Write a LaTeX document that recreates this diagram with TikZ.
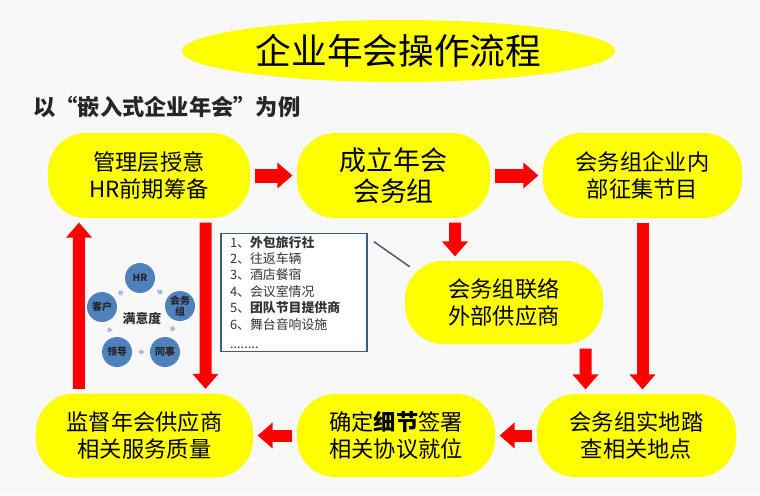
\documentclass[tikz,border=0pt]{standalone}
\usepackage{fontspec}
\setmainfont{Noto Sans CJK SC}
\usetikzlibrary{arrows.meta,shapes.geometric,calc}
\definecolor{FlowYellow}{RGB}{255,255,0}
\definecolor{FlowRed}{RGB}{255,0,0}
\definecolor{FlowBack}{RGB}{248,248,248}
\definecolor{FlowBlue}{RGB}{79,129,189}
\definecolor{FlowDot}{RGB}{167,186,214}
\definecolor{FlowNavy}{RGB}{56,93,138}
\definecolor{FlowSlate}{RGB}{68,84,106}
\tikzset{
  flow/box/.style={
    fill=FlowYellow,
    rounded corners=1.15cm,
    align=center,
    text=black,
    inner sep=0pt,
    font=\fontsize{19pt}{23pt}\selectfont
  },
  flow/title/.style={
    ellipse,
    fill=FlowYellow,
    minimum width=12.99cm,
    minimum height=1.86cm,
    inner sep=0pt,
    text=black,
    font=\fontsize{30.5pt}{32pt}\selectfont
  },
  flow/subtitle/.style={
    inner sep=0pt,
    text=black!85,
    font=\fontsize{19pt}{22pt}\selectfont\bfseries
  },
  flow/list/.style={
    draw=FlowNavy,
    line width=1.5pt,
    fill=white,
    align=left,
    text=black!80,
    text width=3.84cm,
    minimum height=3.45cm,
    inner xsep=0.27cm,
    inner ysep=2pt,
    font=\fontsize{11pt}{14pt}\selectfont
  },
  flow/sat/.style={
    circle,
    fill=FlowBlue,
    minimum size=0.9cm,
    inner sep=0pt,
    align=center,
    text=black!85,
    font=\fontsize{8.5pt}{9pt}\selectfont\bfseries
  },
  flow/satlabel/.style={text=black!80, font=\fontsize{11pt}{12pt}\selectfont\bfseries},
  flow/arrow/.style={-{Triangle[length=4.5mm,width=7.5mm]}, line width=0.36cm, draw=FlowRed,
    shorten <=0.13cm, shorten >=0.13cm},
  flow/fatarrow/.style={flow/arrow, line width=0.42cm},
  flow/satdot/.style={-{Triangle[length=1.2mm,width=1.8mm]}, line width=1.8pt, draw=FlowDot,
    shorten <=0.18cm, shorten >=0.18cm},
  flow/callout/.style={draw=FlowSlate, line width=1.2pt}
}
\begin{document}
\begin{tikzpicture}[x=0.03cm,y=-0.03cm]
  \fill[FlowBack] (0,0) rectangle (760,495);
  \useasboundingbox (0,0) rectangle (760,495);
  % title and subtitle
  \node[flow/title] (title) at (398.5,51) {企业年会操作流程};
  \node[flow/subtitle,anchor=west] (subtitle) at (33,107) {以“嵌入式企业年会”为例};
  % process steps
  \node[flow/box,minimum width=6.06cm,minimum height=2.55cm] (mgmt) at (149,175.5) {管理层授意\\HR前期筹备};
  \node[flow/box,minimum width=5.79cm,minimum height=2.55cm,font=\fontsize{23pt}{26pt}\selectfont] (team) at (393.5,175.5) {成立年会\\会务组};
  \node[flow/box,minimum width=5.97cm,minimum height=2.55cm] (collect) at (642.5,175.5) {会务组企业内\\部征集节目};
  \node[flow/box,minimum width=5.94cm,minimum height=2.49cm] (supplier) at (504,302.5) {会务组联络\\外部供应商};
  \node[flow/box,minimum width=5.97cm,minimum height=2.49cm] (survey) at (636.5,435.5) {会务组实地踏\\查相关地点};
  \node[flow/box,minimum width=5.94cm,minimum height=2.49cm] (detail) at (396,435.5) {确定{\bfseries 细节}签署\\相关协议就位};
  \node[flow/box,minimum width=6.51cm,minimum height=2.52cm] (supervise) at (144.5,435.5) {监督年会供应商\\相关服务质量};
  % supplier list
  \node[flow/list] (supplist) at (294,292.5) {1、{\bfseries 外包旅行社}\\2、往返车辆\\3、酒店餐宿\\4、会议室情况\\5、{\bfseries 团队节目提供商}\\6、舞台音响设施\\[3pt]........};
  \draw[flow/callout] ([xshift=0.18cm,yshift=-0.27cm]supplist.north east) -- ([xshift=0.15cm,yshift=-0.18cm]supplier.north west);
  % satisfaction circle
  \node[flow/sat] (hr) at (140,278) {HR};
  \node[flow/sat] (staff) at (180,306) {会务\\组};
  \node[flow/sat] (peer) at (165,352) {同事};
  \node[flow/sat] (lead) at (117,352) {领导};
  \node[flow/sat] (client) at (102,307) {客户};
  \node[flow/satlabel] (satis) at (142,318) {满意度};
  \draw[flow/satdot] (hr) -- (staff);
  \draw[flow/satdot] (staff) -- (peer);
  \draw[flow/satdot] (peer) -- (lead);
  \draw[flow/satdot] (lead) -- (client);
  \draw[flow/satdot] (client) -- (hr);
  % arrows
  \draw[flow/fatarrow] (mgmt) -- (team);
  \draw[flow/fatarrow] (team) -- (collect);
  \draw[flow/arrow] ([xshift=1.845cm]team.south) -- ([xshift=-1.47cm]supplier.north);
  \draw[flow/arrow] (collect.south) -- ([xshift=0.18cm]survey.north);
  \draw[flow/arrow] ([xshift=2.445cm]supplier.south) -- ([xshift=-1.53cm]survey.north);
  \draw[flow/arrow] (survey) -- (detail);
  \draw[flow/arrow] (detail) -- (supervise);
  \draw[flow/arrow] ([xshift=-1.965cm]supervise.north) -- ([xshift=-2.1cm]mgmt.south);
  \draw[flow/arrow] ([xshift=1.695cm]mgmt.south) -- ([xshift=1.83cm]supervise.north);
\end{tikzpicture}
\end{document}
